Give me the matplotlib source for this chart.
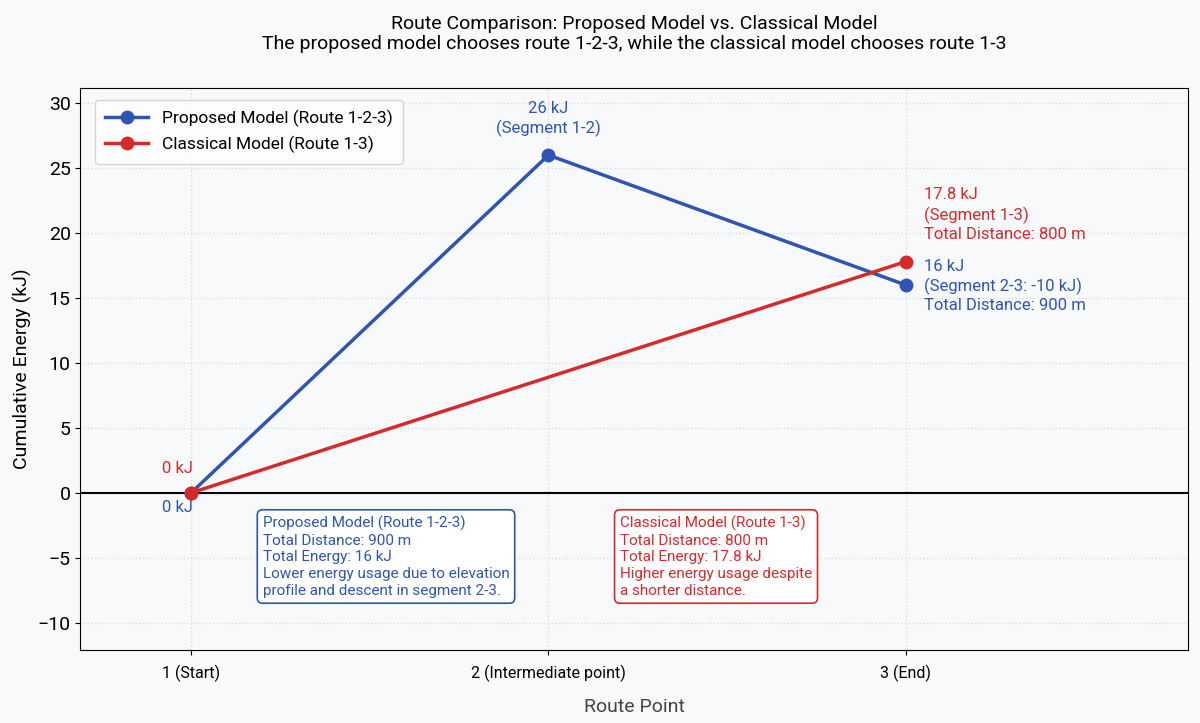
import matplotlib.pyplot as plt

plt.rcParams['font.family'] = ['Roboto', 'DejaVu Sans']

# route points and energies
points = [1, 2, 3]
point_labels = ['1 (Start)', '2 (Intermediate point)', '3 (End)']
proposed_x = [1, 2, 3]
proposed_energy = [0, 26, 16]
classical_x = [1, 3]
classical_energy = [0, 17.8]

blue = '#2f55b4'
red = '#d62a2a'
bg = '#f8f9fb'

fig, ax = plt.subplots(figsize=(12, 7.23), dpi=100)
fig.patch.set_facecolor(bg)
ax.set_facecolor(bg)
fig.subplots_adjust(left=0.067, right=0.99, top=0.878, bottom=0.101)

ax.plot(proposed_x, proposed_energy, color=blue, lw=2.5, marker='o', ms=9,
        label='Proposed Model (Route 1-2-3)', zorder=3)
ax.plot(classical_x, classical_energy, color=red, lw=2.5, marker='o', ms=9,
        label='Classical Model (Route 1-3)', zorder=4)

ax.axhline(0, color='black', lw=1.5, zorder=2)

ax.set_xlim(0.69, 3.79)
ax.set_ylim(-12.1, 31.15)
ax.set_xticks(points)
ax.set_xticklabels(point_labels, fontsize=11.5)
ax.tick_params(axis='x', pad=7)
ax.set_yticks(range(-10, 31, 5))
ax.tick_params(axis='y', labelsize=14)
ax.grid(True, linestyle=':', color='#dcdcdc', lw=1)
ax.set_axisbelow(True)

ax.set_xlabel('Route Point', fontsize=14, color='#444444', labelpad=12)
ax.set_ylabel('Cumulative Energy (kJ)', fontsize=14)
ax.set_title('Route Comparison: Proposed Model vs. Classical Model\n'
             'The proposed model chooses route 1-2-3, while the classical model chooses route 1-3',
             fontsize=14, pad=28)

# point annotations
ax.annotate('0 kJ', (1, 0), xytext=(-10, 12), textcoords='offset points',
            color=red, fontsize=12, ha='center', va='bottom')
ax.annotate('0 kJ', (1, 0), xytext=(-10, -5), textcoords='offset points',
            color=blue, fontsize=12, ha='center', va='top')
ax.annotate('26 kJ\n(Segment 1-2)', (2, 26), xytext=(0, 13), textcoords='offset points',
            color=blue, fontsize=12, ha='center', va='bottom', linespacing=1.3)
ax.annotate('17.8 kJ\n(Segment 1-3)\nTotal Distance: 800 m', (3, 17.8), xytext=(13, 14),
            textcoords='offset points', color=red, fontsize=12, ha='left', va='bottom',
            linespacing=1.3)
ax.annotate('16 kJ\n(Segment 2-3: -10 kJ)\nTotal Distance: 900 m', (3, 16), xytext=(13, 19),
            textcoords='offset points', color=blue, fontsize=12, ha='left', va='top',
            linespacing=1.3)

# summary boxes
ax.text(1.2, -1.75, 'Proposed Model (Route 1-2-3)\nTotal Distance: 900 m\nTotal Energy: 16 kJ\n'
        'Lower energy usage due to elevation\nprofile and descent in segment 2-3.',
        color=blue, fontsize=11, va='top', ha='left', linespacing=1.25,
        bbox=dict(boxstyle='round,pad=0.35', fc='white', ec=blue, lw=1.2))
ax.text(2.2, -1.75, 'Classical Model (Route 1-3)\nTotal Distance: 800 m\nTotal Energy: 17.8 kJ\n'
        'Higher energy usage despite\na shorter distance.',
        color=red, fontsize=11, va='top', ha='left', linespacing=1.25,
        bbox=dict(boxstyle='round,pad=0.35', fc='white', ec=red, lw=1.2))

leg = ax.legend(loc='upper left', fontsize=12.5, frameon=True, facecolor='white',
                edgecolor='#cccccc', handlelength=2.5, borderpad=0.6,
                bbox_to_anchor=(0.005, 0.995))

plt.savefig('out.png', facecolor=bg)
